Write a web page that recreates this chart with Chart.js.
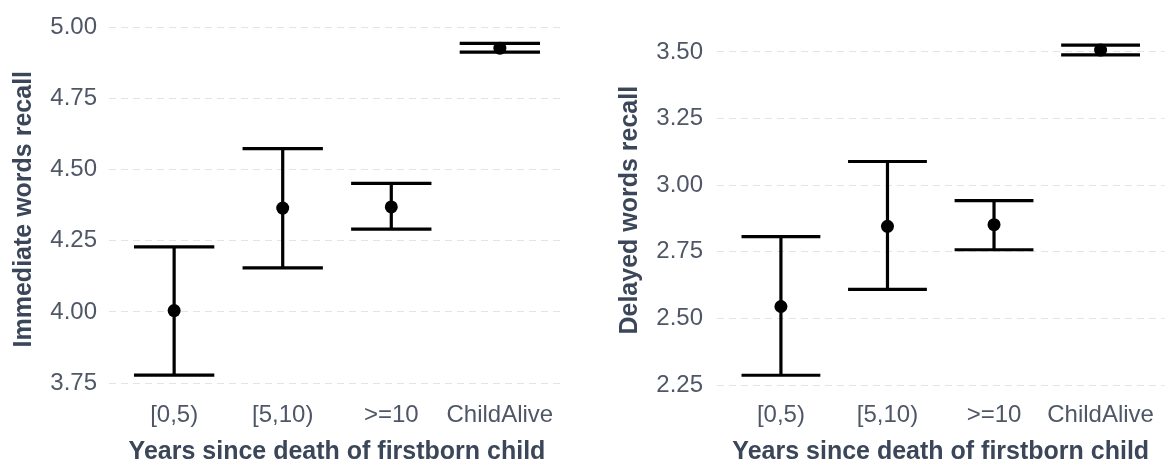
<!DOCTYPE html>
<html>
<head>
<meta charset="utf-8">
<script src="https://cdn.jsdelivr.net/npm/chart.js@4/dist/chart.umd.min.js"></script>
<style>
  html, body { margin: 0; padding: 0; background: #ffffff; }
  #wrap { position: relative; width: 1171px; height: 464px; overflow: hidden; }
  canvas { position: absolute; top: 0; }
</style>
</head>
<body>
<div id="wrap">
  <canvas id="immediate" width="580" height="464" style="left:0;width:580px;height:464px"></canvas>
  <canvas id="delayed" width="591" height="464" style="left:580px;width:591px;height:464px"></canvas>
</div>
<script>
// Groups on the horizontal axis
const categories = ['[0,5)', '[5,10)', '>=10', 'ChildAlive'];

// Immediate words recall: estimate with lower / upper confidence limits
const immediateMean  = [4.005, 4.365, 4.369, 4.927];
const immediateLower = [3.778, 4.155, 4.291, 4.913];
const immediateUpper = [4.229, 4.574, 4.452, 4.944];

// Delayed words recall: estimate with lower / upper confidence limits
const delayedMean  = [2.545, 2.846, 2.852, 3.507];
const delayedLower = [2.287, 2.609, 2.758, 3.489];
const delayedUpper = [2.807, 3.089, 2.942, 3.526];

// Tick values for the two vertical axes
const immediateTicks = [3.75, 4.00, 4.25, 4.50, 4.75, 5.00];
const delayedTicks   = [2.25, 2.50, 2.75, 3.00, 3.25, 3.50];

const FONT = "'Liberation Sans', Arial, Helvetica, sans-serif";
const TICK_COLOR = '#4f5767';
const TITLE_COLOR = '#3b4659';

// Draws vertical whiskers with horizontal caps behind the points
function errorBarPlugin(lower, upper) {
  return {
    id: 'errorBars',
    beforeDatasetsDraw(chart) {
      const { ctx, scales: { x, y } } = chart;
      const capWidth = 0.74;
      ctx.save();
      ctx.strokeStyle = '#000000';
      ctx.lineWidth = 3.2;
      ctx.lineCap = 'butt';
      lower.forEach((lo, i) => {
        const pos = i + 1;
        const cx = x.getPixelForValue(pos);
        const left = x.getPixelForValue(pos - capWidth / 2);
        const right = x.getPixelForValue(pos + capWidth / 2);
        const yLo = y.getPixelForValue(lo);
        const yHi = y.getPixelForValue(upper[i]);
        ctx.beginPath();
        ctx.moveTo(cx, yHi); ctx.lineTo(cx, yLo);
        ctx.moveTo(left, yHi); ctx.lineTo(right, yHi);
        ctx.moveTo(left, yLo); ctx.lineTo(right, yLo);
        ctx.stroke();
      });
      ctx.restore();
    }
  };
}

function buildChart(id, cfg) {
  return new Chart(document.getElementById(id), {
    type: 'scatter',
    data: {
      datasets: [{
        data: cfg.mean.map((m, i) => ({ x: i + 1, y: m })),
        pointRadius: 6.5,
        pointBackgroundColor: '#000000',
        pointBorderWidth: 0,
        showLine: false
      }]
    },
    options: {
      responsive: false,
      animation: false,
      events: [],
      layout: { padding: { top: 22, bottom: 0, left: 0, right: cfg.rightPad } },
      plugins: { legend: { display: false }, tooltip: { enabled: false } },
      scales: {
        x: {
          type: 'linear',
          min: 0.4,
          max: 4.6,
          afterBuildTicks: (s) => { s.ticks = categories.map((c, i) => ({ value: i + 1 })); },
          afterFit: (s) => { s.height = 72; },
          grid: { display: false, drawTicks: false },
          border: { display: false },
          ticks: {
            autoSkip: false,
            maxRotation: 0,
            padding: 9,
            color: TICK_COLOR,
            font: { family: FONT, size: 24 },
            callback: (v) => categories[Math.round(v) - 1]
          },
          title: {
            display: true,
            text: 'Years since death of firstborn child',
            color: TITLE_COLOR,
            font: { family: FONT, size: 25, weight: 'bold' },
            padding: { top: 0, bottom: -3 }
          }
        },
        y: {
          min: cfg.yMin,
          max: cfg.yMax,
          afterBuildTicks: (s) => { s.ticks = cfg.ticks.map((v) => ({ value: v })); },
          afterFit: (s) => { s.width = cfg.axisWidth; },
          grid: { color: '#e4e4e4', lineWidth: 1, drawTicks: false },
          border: { display: false, dash: [7, 5] },
          ticks: {
            padding: cfg.tickPad,
            color: TICK_COLOR,
            font: { family: FONT, size: 24 },
            callback: (v) => Number(v).toFixed(2)
          },
          title: {
            display: true,
            text: cfg.title,
            color: TITLE_COLOR,
            font: { family: FONT, size: 25, weight: 'bold' },
            padding: { top: cfg.titlePad, bottom: 0 }
          }
        }
      }
    },
    plugins: [errorBarPlugin(cfg.lower, cfg.upper)]
  });
}

buildChart('immediate', {
  title: 'Immediate words recall',
  mean: immediateMean, lower: immediateLower, upper: immediateUpper,
  ticks: immediateTicks,
  yMin: 3.7188, yMax: 5.0035,
  axisWidth: 109, tickPad: 12, titlePad: 9, rightPad: 15
});

buildChart('delayed', {
  title: 'Delayed words recall',
  mean: delayedMean, lower: delayedLower, upper: delayedUpper,
  ticks: delayedTicks,
  yMin: 2.2242, yMax: 3.5885,
  axisWidth: 137, tickPad: 14, titlePad: 35, rightPad: 0
});
</script>
</body>
</html>
